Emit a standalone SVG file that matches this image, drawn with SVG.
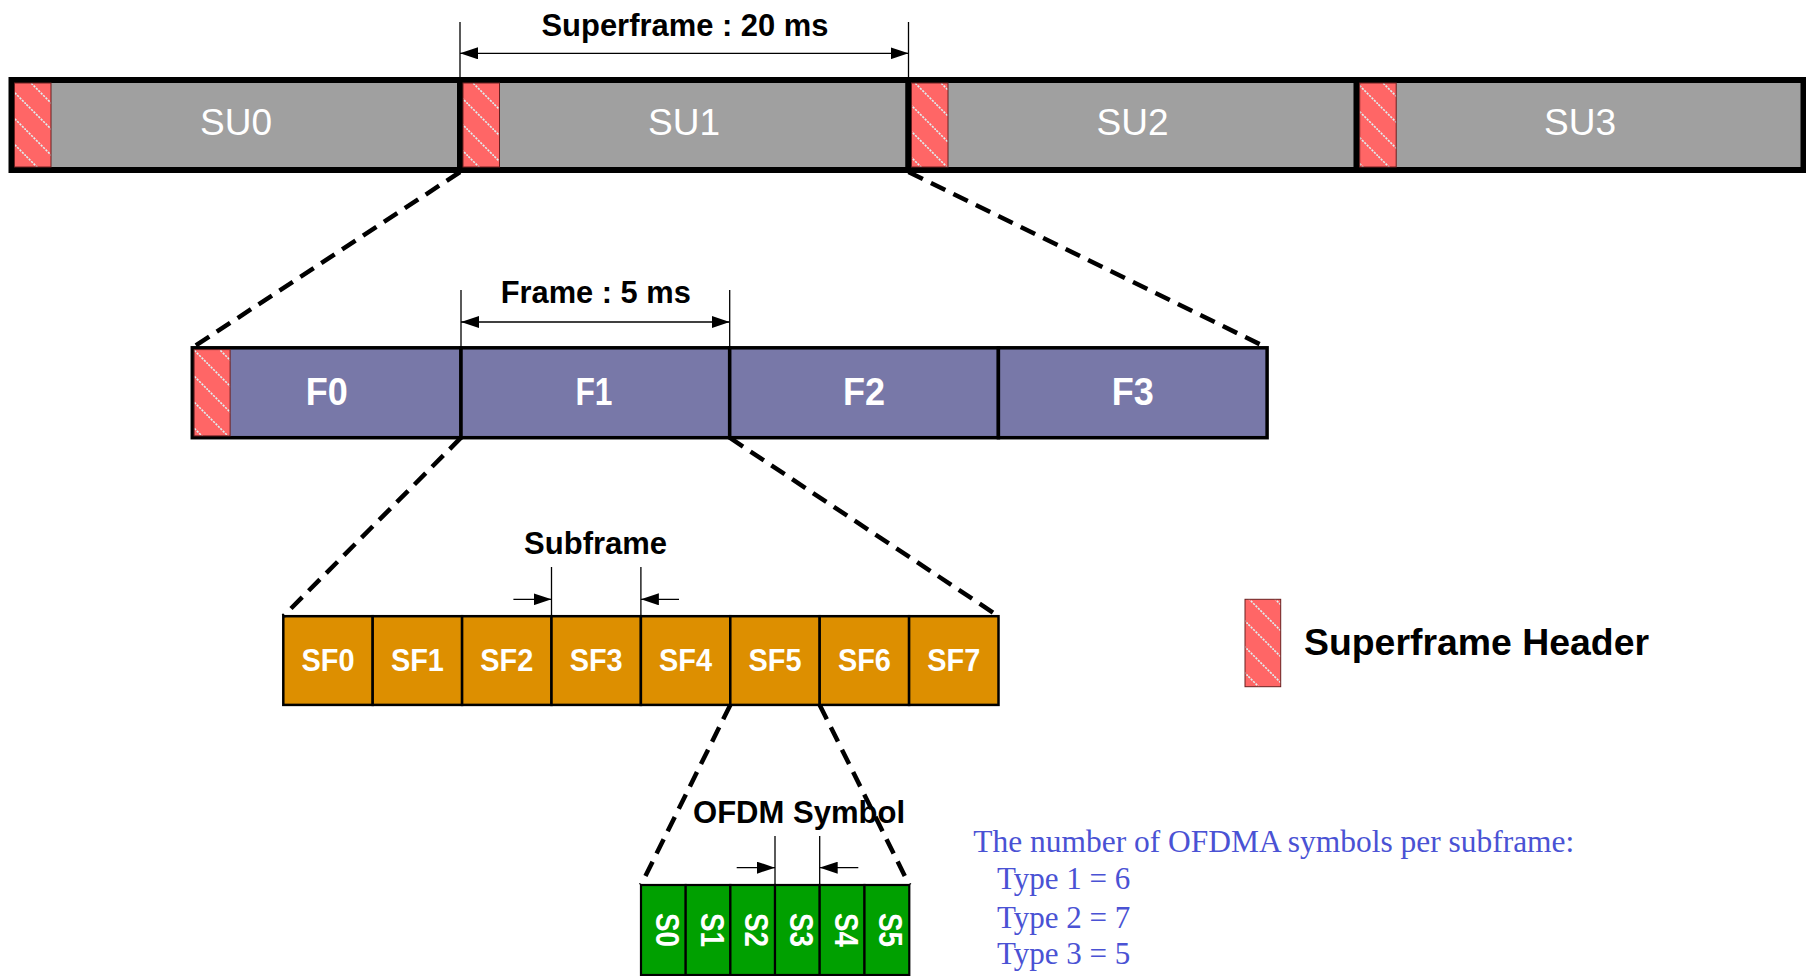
<svg xmlns="http://www.w3.org/2000/svg" width="1806" height="976" viewBox="0 0 1806 976">
<style>
  .su { fill: #a0a0a0; stroke: #000; stroke-width: 6; }
  .fr { fill: #7878a8; stroke: #000; stroke-width: 3.5; }
  .sf { fill: #dd8f00; stroke: #000; stroke-width: 2.5; }
  .sy { fill: #00a000; stroke: #000; stroke-width: 2.2; }
  .hdr { fill: url(#hatch); stroke: #6a2020; stroke-width: 1; }
  .lblSU { font-family: "Liberation Sans", Arial, sans-serif; font-size: 37px; fill: #fff; text-anchor: middle; }
  .lblB { font-family: "Liberation Sans", Arial, sans-serif; font-weight: bold; fill: #fff; text-anchor: middle; }
  .dim { font-family: "Liberation Sans", Arial, sans-serif; font-weight: bold; fill: #000; text-anchor: middle; }
  .dash { stroke: #000; stroke-width: 4.5; stroke-dasharray: 16 9; fill: none; }
  .ext { stroke: #000; stroke-width: 1.3; fill: none; }
  .arr { stroke: #000; stroke-width: 1.3; fill: none; marker-end: url(#ah); }
  .note { font-family: "Liberation Serif", "Times New Roman", serif; font-size: 31px; fill: #4a52d4; }
</style>
<defs>
  <pattern id="hatch" patternUnits="userSpaceOnUse" width="26" height="26">
    <rect width="26" height="26" fill="#ff6666"/>
    <path d="M-2,-2 L28,28 M-2,24 L2,28 M24,-2 L28,2" stroke="#dff0f2" stroke-width="1.6" stroke-dasharray="2.2 1.2"/>
  </pattern>
  <marker id="ah" viewBox="0 0 18 12" refX="18" refY="6" markerWidth="18" markerHeight="12" markerUnits="userSpaceOnUse" orient="auto-start-reverse">
    <path d="M0,0 L18,6 L0,12 z" fill="#000"/>
  </marker>
</defs>
<rect width="1806" height="976" fill="#fff"/>

<!-- Superframes -->
<g id="su0"><rect class="su" x="11.5" y="80" width="448.5" height="90"/><rect class="hdr" x="14.5" y="83" width="36.5" height="84"/><text class="lblSU" x="236" y="135">SU0</text></g>
<g id="su1"><rect class="su" x="460" y="80" width="448.5" height="90"/><rect class="hdr" x="463" y="83" width="36.5" height="84"/><text class="lblSU" x="684" y="135">SU1</text></g>
<g id="su2"><rect class="su" x="908.5" y="80" width="448.2" height="90"/><rect class="hdr" x="911.5" y="83" width="36.5" height="84"/><text class="lblSU" x="1132.5" y="135">SU2</text></g>
<g id="su3"><rect class="su" x="1356.7" y="80" width="446.8" height="90"/><rect class="hdr" x="1359.7" y="83" width="36.5" height="84"/><text class="lblSU" x="1580" y="135">SU3</text></g>

<!-- Frames -->
<g id="f0"><rect class="fr" x="192.3" y="347.8" width="268.7" height="89.9"/><rect class="hdr" x="194.1" y="349.6" width="36" height="86.3"/><text class="lblB" x="326.8" y="405" font-size="39" textLength="42" lengthAdjust="spacingAndGlyphs">F0</text></g>
<g id="f1"><rect class="fr" x="461" y="347.8" width="268.7" height="89.9"/><text class="lblB" x="594" y="405" font-size="39" textLength="37" lengthAdjust="spacingAndGlyphs">F1</text></g>
<g id="f2"><rect class="fr" x="729.7" y="347.8" width="268.7" height="89.9"/><text class="lblB" x="864" y="405" font-size="39" textLength="42" lengthAdjust="spacingAndGlyphs">F2</text></g>
<g id="f3"><rect class="fr" x="998.4" y="347.8" width="268.7" height="89.9"/><text class="lblB" x="1132.7" y="405" font-size="39" textLength="42" lengthAdjust="spacingAndGlyphs">F3</text></g>

<!-- Subframes -->
<g id="sf0"><rect class="sf" x="283.3" y="616.2" width="89.4" height="88.7"/><text class="lblB" x="328" y="671" font-size="31" textLength="53" lengthAdjust="spacingAndGlyphs">SF0</text></g>
<g id="sf1"><rect class="sf" x="372.7" y="616.2" width="89.4" height="88.7"/><text class="lblB" x="417.4" y="671" font-size="31" textLength="53" lengthAdjust="spacingAndGlyphs">SF1</text></g>
<g id="sf2"><rect class="sf" x="462.1" y="616.2" width="89.4" height="88.7"/><text class="lblB" x="506.8" y="671" font-size="31" textLength="53" lengthAdjust="spacingAndGlyphs">SF2</text></g>
<g id="sf3"><rect class="sf" x="551.5" y="616.2" width="89.4" height="88.7"/><text class="lblB" x="596.2" y="671" font-size="31" textLength="53" lengthAdjust="spacingAndGlyphs">SF3</text></g>
<g id="sf4"><rect class="sf" x="640.9" y="616.2" width="89.4" height="88.7"/><text class="lblB" x="685.6" y="671" font-size="31" textLength="53" lengthAdjust="spacingAndGlyphs">SF4</text></g>
<g id="sf5"><rect class="sf" x="730.3" y="616.2" width="89.4" height="88.7"/><text class="lblB" x="775" y="671" font-size="31" textLength="53" lengthAdjust="spacingAndGlyphs">SF5</text></g>
<g id="sf6"><rect class="sf" x="819.7" y="616.2" width="89.4" height="88.7"/><text class="lblB" x="864.4" y="671" font-size="31" textLength="53" lengthAdjust="spacingAndGlyphs">SF6</text></g>
<g id="sf7"><rect class="sf" x="909.1" y="616.2" width="89.4" height="88.7"/><text class="lblB" x="953.8" y="671" font-size="31" textLength="53" lengthAdjust="spacingAndGlyphs">SF7</text></g>

<!-- OFDM symbols -->
<g id="s0"><rect class="sy" x="641" y="885" width="44.7" height="90"/><text class="lblB" font-size="33" dy="12" textLength="34" lengthAdjust="spacingAndGlyphs" transform="translate(667.8,930) rotate(90)">S0</text></g>
<g id="s1"><rect class="sy" x="685.7" y="885" width="44.7" height="90"/><text class="lblB" font-size="33" dy="12" textLength="34" lengthAdjust="spacingAndGlyphs" transform="translate(712.5,930) rotate(90)">S1</text></g>
<g id="s2"><rect class="sy" x="730.4" y="885" width="44.6" height="90"/><text class="lblB" font-size="33" dy="12" textLength="34" lengthAdjust="spacingAndGlyphs" transform="translate(757.2,930) rotate(90)">S2</text></g>
<g id="s3"><rect class="sy" x="775" y="885" width="44.7" height="90"/><text class="lblB" font-size="33" dy="12" textLength="34" lengthAdjust="spacingAndGlyphs" transform="translate(801.8,930) rotate(90)">S3</text></g>
<g id="s4"><rect class="sy" x="819.7" y="885" width="44.8" height="90"/><text class="lblB" font-size="33" dy="12" textLength="34" lengthAdjust="spacingAndGlyphs" transform="translate(846.5,930) rotate(90)">S4</text></g>
<g id="s5"><rect class="sy" x="864.5" y="885" width="44.8" height="90"/><text class="lblB" font-size="33" dy="12" textLength="34" lengthAdjust="spacingAndGlyphs" transform="translate(891.3,930) rotate(90)">S5</text></g>

<!-- Connectors and dimensions -->
<g id="connectors">
  <line class="dash" x1="460" y1="172" x2="192.3" y2="347.8"/>
  <line class="dash" x1="908.5" y1="172" x2="1267.1" y2="347.8"/>
  <line class="dash" x1="461" y1="437.7" x2="283.3" y2="616.2"/>
  <line class="dash" x1="729.7" y1="437.7" x2="998.5" y2="616.2"/>
  <line class="dash" x1="730.3" y1="704.9" x2="641" y2="885"/>
  <line class="dash" x1="819.7" y1="704.9" x2="909.3" y2="885"/>

  <line class="ext" x1="460" y1="22" x2="460" y2="80"/>
  <line class="ext" x1="908.5" y1="22" x2="908.5" y2="80"/>
  <line class="ext" x1="460" y1="53.3" x2="908.5" y2="53.3" marker-start="url(#ah)" marker-end="url(#ah)"/>

  <line class="ext" x1="461" y1="290" x2="461" y2="348"/>
  <line class="ext" x1="729.7" y1="290" x2="729.7" y2="348"/>
  <line class="ext" x1="461" y1="322" x2="729.7" y2="322" marker-start="url(#ah)" marker-end="url(#ah)"/>

  <line class="ext" x1="551.5" y1="567" x2="551.5" y2="617"/>
  <line class="ext" x1="640.9" y1="567" x2="640.9" y2="617"/>
  <line class="arr" x1="513.4" y1="599.3" x2="551.5" y2="599.3"/>
  <line class="arr" x1="679" y1="599.3" x2="640.9" y2="599.3"/>

  <line class="ext" x1="775" y1="836" x2="775" y2="885"/>
  <line class="ext" x1="819.7" y1="836" x2="819.7" y2="885"/>
  <line class="arr" x1="736.7" y1="867.7" x2="775" y2="867.7"/>
  <line class="arr" x1="858.3" y1="867.7" x2="819.7" y2="867.7"/>
</g>

<!-- Dimension labels -->
<text class="dim" x="685" y="36" font-size="32" textLength="287" lengthAdjust="spacingAndGlyphs">Superframe : 20 ms</text>
<text class="dim" x="595.8" y="303.3" font-size="30.5" textLength="190" lengthAdjust="spacingAndGlyphs">Frame : 5 ms</text>
<text class="dim" x="595.6" y="554" font-size="31" textLength="143" lengthAdjust="spacingAndGlyphs">Subframe</text>
<text class="dim" x="799" y="823.3" font-size="30.5" textLength="212" lengthAdjust="spacingAndGlyphs">OFDM Symbol</text>

<!-- Legend -->
<g id="legend">
  <rect class="hdr" x="1245" y="599.3" width="35.7" height="87.4"/>
  <text x="1304" y="655" font-family="Liberation Sans, Arial, sans-serif" font-weight="bold" font-size="37" fill="#000" textLength="345" lengthAdjust="spacingAndGlyphs">Superframe Header</text>
</g>

<!-- Note -->
<g id="note">
  <text class="note" x="973.3" y="851.7" textLength="601" lengthAdjust="spacingAndGlyphs">The number of OFDMA symbols per subframe:</text>
  <text class="note" x="997" y="889">Type 1 = 6</text>
  <text class="note" x="997" y="927.7">Type 2 = 7</text>
  <text class="note" x="997" y="964.3">Type 3 = 5</text>
</g>
</svg>
